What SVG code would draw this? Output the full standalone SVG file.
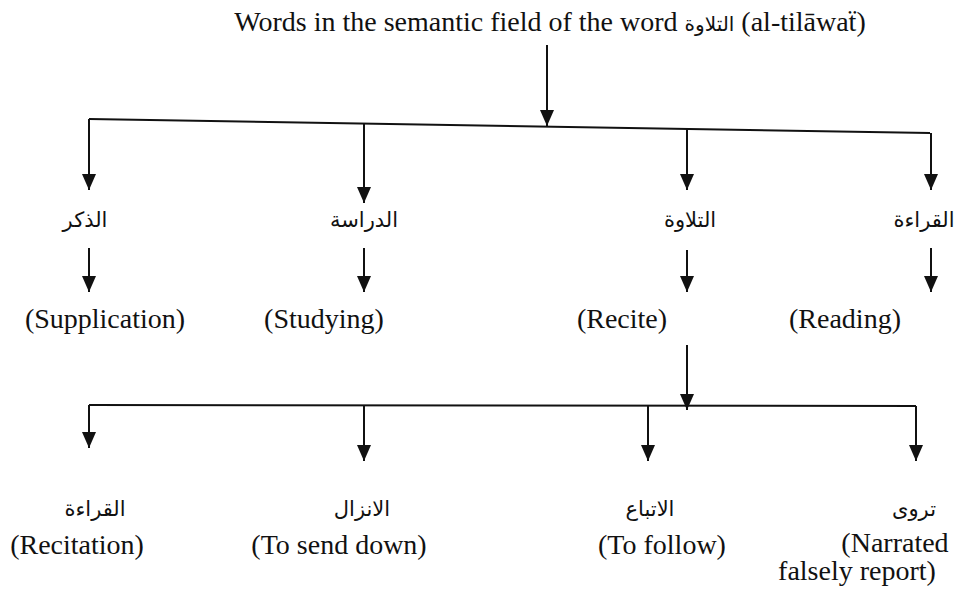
<svg xmlns="http://www.w3.org/2000/svg" width="960" height="592" viewBox="0 0 960 592">
<style>
.t{fill:#111;text-anchor:middle}
.en{font-family:"Liberation Serif","Times New Roman",serif;font-size:28px}
.ar{font-family:"DejaVu Sans","Noto Sans",sans-serif;font-size:21px}
.ln{stroke:#111;stroke-width:2;fill:none}
</style>
<defs>
<marker id="a" markerUnits="userSpaceOnUse" markerWidth="16" markerHeight="14" refX="16" refY="7" orient="auto" viewBox="0 0 16 14">
<path d="M0,0 L16,7 L0,14 Z" fill="#111"/>
</marker>
</defs>
<g id="title"><text class="t en" x="550" y="31">Words in the semantic field of the word <tspan style="font-family:'DejaVu Sans',sans-serif;font-size:20px">التلاوة</tspan> (al-tilāwaẗ)</text></g>
<g id="connectors">
<path class="ln" d="M547,45 L547,126" marker-end="url(#a)"/>
<path class="ln" d="M89,119 L930,133"/>
<path class="ln" d="M89,119 L89,190" marker-end="url(#a)"/>
<path class="ln" d="M364,124 L364,203" marker-end="url(#a)"/>
<path class="ln" d="M687,129 L687,190" marker-end="url(#a)"/>
<path class="ln" d="M931,133 L931,190" marker-end="url(#a)"/>
<path class="ln" d="M89,248 L89,292" marker-end="url(#a)"/>
<path class="ln" d="M364,248 L364,292" marker-end="url(#a)"/>
<path class="ln" d="M687,250 L687,292" marker-end="url(#a)"/>
<path class="ln" d="M931,248 L931,292" marker-end="url(#a)"/>
<path class="ln" d="M687,345 L687,410" marker-end="url(#a)"/>
<path class="ln" d="M89,405 L916,406"/>
<path class="ln" d="M89,405 L89,448" marker-end="url(#a)"/>
<path class="ln" d="M364,405 L364,461" marker-end="url(#a)"/>
<path class="ln" d="M648,406 L648,461" marker-end="url(#a)"/>
<path class="ln" d="M916,406 L916,461" marker-end="url(#a)"/>
</g>
<g id="n1"><text class="t ar" x="85" y="227">الذكر</text><text class="t en" x="105" y="328">(Supplication)</text></g>
<g id="n2"><text class="t ar" x="364" y="227">الدراسة</text><text class="t en" x="324" y="328">(Studying)</text></g>
<g id="n3"><text class="t ar" x="690" y="227">التلاوة</text><text class="t en" x="622" y="328">(Recite)</text></g>
<g id="n4"><text class="t ar" x="924" y="227">القراءة</text><text class="t en" x="845" y="328">(Reading)</text></g>
<g id="n5"><text class="t ar" x="95" y="516">القراءة</text><text class="t en" x="77" y="554">(Recitation)</text></g>
<g id="n6"><text class="t ar" x="362" y="516">الانزال</text><text class="t en" x="339" y="554">(To send down)</text></g>
<g id="n7"><text class="t ar" x="650" y="516">الاتباع</text><text class="t en" x="662" y="554">(To follow)</text></g>
<g id="n8"><text class="t ar" x="914" y="516">تروى</text><text class="t en" x="895" y="552">(Narrated</text><text class="t en" x="857" y="580">falsely report)</text></g>
</svg>
